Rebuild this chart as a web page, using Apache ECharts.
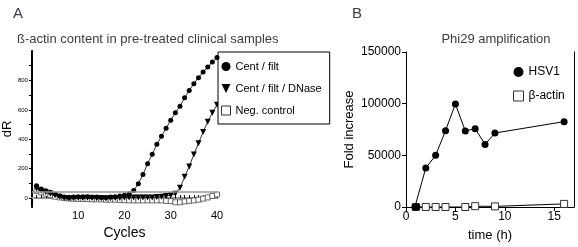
<!DOCTYPE html>
<html>
<head>
<meta charset="utf-8">
<script src="https://cdn.jsdelivr.net/npm/echarts@6/dist/echarts.min.js"></script>
<style>
  html, body { margin: 0; padding: 0; background: #fff; }
  #chart { width: 578px; height: 247px; }
</style>
</head>
<body>
<div id="chart"></div>
<script>
// Panel A: qPCR curves (dR per cycle)
const cycles = Array.from({ length: 40 }, (_, i) => i + 1)
const centFilt = [
  85, 62, 50, 40, 28, 15, 8, 5, 8, 10,
  10, 10, 8, 8, 5, 5, 8, 10, 15, 20,
  30, 52, 98, 161, 234, 298, 366, 420, 475, 530,
  580, 625, 682, 732, 778, 819, 857, 891, 925, 955
]
const centFiltDNase = [
  65, 50, 40, 30, 20, 10, 2, -2, 0, 2,
  2, 3, 2, 0, 0, -2, 0, 2, 2, 3,
  4, 5, 5, 5, 5, 5, 8, 10, 15, 20,
  30, 70, 145, 216, 297, 374, 450, 520, 580, 635
]
const negControl = [
  50, 40, 30, 20, 10, 5, 0, -2, -4, -5,
  -6, -6, -8, -8, -8, -10, -10, -10, -12, -14,
  -15, -15, -15, -15, -15, -15, -15, -15, -18, -20,
  -28, -28, -22, -18, -15, -10, -3, 5, 15, 25
]
const threshold = 45

// Panel B: Phi29 amplification (fold increase vs time)
const hsvTime = [0.9, 1.1, 2, 3, 4, 5, 6, 7, 8, 9, 16]
const hsvFold = [0, 0, 37700, 50000, 73900, 99700, 73500, 75800, 60600, 71600, 82600]
const actinTime = [1, 2, 3, 4, 6, 7, 9, 16]
const actinFold = [0, 0, 0, 0, 0, 800, 600, 3000]

const font = 'Liberation Sans, Arial, sans-serif'
const tickValuesA = cycles
const tickValuesY = [0, 100, 200, 300, 400, 500, 600, 700, 800, 900]

const chart = echarts.init(document.getElementById('chart'))

const option = {
  animation: false,
  textStyle: { fontFamily: font, color: '#000' },
  title: [
    { text: 'A', left: 8, top: 1, textStyle: { fontSize: 15, fontWeight: 'normal', fontFamily: font } },
    { text: 'B', left: 347, top: 1, textStyle: { fontSize: 15, fontWeight: 'normal', fontFamily: font } },
    { text: 'ß-actin content in pre-treated clinical samples', left: 12, top: 28,
      textStyle: { fontSize: 13, fontWeight: 'normal', fontFamily: font } },
    { text: 'Phi29 amplification', left: 491, textAlign: 'center', top: 28,
      textStyle: { fontSize: 13, fontWeight: 'normal', fontFamily: font } }
  ],
  legend: [
    {
      orient: 'vertical',
      left: 218,
      top: 52,
      padding: [9, 8, 8, 3],
      itemGap: 11,
      itemWidth: 9,
      itemHeight: 9,
      borderColor: '#000',
      borderWidth: 1,
      backgroundColor: '#fff',
      textStyle: { fontSize: 11, fontFamily: font, color: '#000' },
      data: [
        { name: 'Cent / filt', icon: 'circle' },
        { name: 'Cent / filt / DNase', icon: 'path://M0,0 L10,0 L5,10 Z' },
        { name: 'Neg. control', icon: 'rect', itemStyle: { color: '#fff', borderColor: '#333', borderWidth: 1 } }
      ]
    },
    {
      orient: 'vertical',
      left: 508,
      top: 61,
      itemGap: 12,
      itemWidth: 10,
      itemHeight: 10,
      textStyle: { fontSize: 12, fontFamily: font, color: '#000' },
      data: [
        { name: 'HSV1', icon: 'circle' },
        { name: 'β-actin', icon: 'rect', itemStyle: { color: '#fff', borderColor: '#333', borderWidth: 1 } }
      ]
    }
  ],
  grid: [
    { left: 29, top: 51, width: 188, height: 156 },
    { left: 406, top: 52, width: 168, height: 156 }
  ],
  xAxis: [
    {
      gridIndex: 0, type: 'value', min: 0, max: 40,
      name: 'Cycles', nameLocation: 'middle', nameGap: 15,
      nameTextStyle: { fontSize: 14, fontFamily: font },
      axisLine: { lineStyle: { color: '#000', width: 1.5 } },
      axisTick: { inside: true, length: 3, customValues: tickValuesA, lineStyle: { color: '#000' } },
      axisLabel: { customValues: [10, 20, 30, 40], fontSize: 11, margin: 3, color: '#000' },
      splitLine: { show: false }
    },
    {
      gridIndex: 0, type: 'value', min: 0, max: 40, position: 'top',
      axisLine: { show: true, lineStyle: { color: '#999', width: 2 } },
      axisTick: { show: false }, axisLabel: { show: false }, splitLine: { show: false }
    },
    {
      gridIndex: 1, type: 'value', min: 0, max: 17, interval: 5,
      name: 'time (h)', nameLocation: 'middle', nameGap: 22,
      nameTextStyle: { fontSize: 13, fontFamily: font },
      axisLine: { lineStyle: { color: '#000' } },
      axisTick: { length: 4, lineStyle: { color: '#000' } },
      axisLabel: { fontSize: 12, margin: 4, color: '#000', showMaxLabel: false },
      splitLine: { show: false }
    }
  ],
  yAxis: [
    {
      gridIndex: 0, type: 'value', min: -60, max: 1000,
      name: 'dR', nameLocation: 'middle', nameGap: 13,
      nameTextStyle: { fontSize: 13, fontFamily: font },
      axisLine: { show: true, lineStyle: { color: '#000' } },
      axisTick: { length: 3, customValues: tickValuesY, lineStyle: { color: '#000' } },
      axisLabel: { customValues: [0, 200, 400, 600, 800], fontSize: 6, margin: 4, color: '#000' },
      splitLine: { show: false }
    },
    {
      gridIndex: 0, type: 'value', min: -60, max: 1000, position: 'right',
      axisLine: { show: true, lineStyle: { color: '#000', width: 2 } },
      axisTick: { show: false }, axisLabel: { show: false }, splitLine: { show: false }
    },
    {
      gridIndex: 1, type: 'value', min: 0, max: 150000, interval: 50000,
      name: 'Fold increase', nameLocation: 'middle', nameGap: 50,
      nameTextStyle: { fontSize: 13, fontFamily: font },
      axisLine: { show: true, lineStyle: { color: '#000' } },
      axisTick: { length: 4, lineStyle: { color: '#000' } },
      axisLabel: { fontSize: 12, margin: 5, color: '#000', formatter: v => String(v) },
      splitLine: { show: false }
    },
    {
      gridIndex: 1, type: 'value', min: 0, max: 150000, position: 'right',
      axisLine: { show: true, lineStyle: { color: '#000' } },
      axisTick: { show: false }, axisLabel: { show: false }, splitLine: { show: false }
    }
  ],
  series: [
    {
      name: 'Neg. control', type: 'line', xAxisIndex: 0, yAxisIndex: 0, z: 2,
      data: cycles.map((c, i) => [c, negControl[i]]),
      symbol: 'rect', symbolSize: 5,
      itemStyle: { color: '#fff', borderColor: '#444', borderWidth: 0.8 },
      lineStyle: { color: '#666', width: 0.8 },
      markLine: {
        silent: true, symbol: 'none', label: { show: false },
        lineStyle: { color: '#999', width: 1.5, type: 'solid' },
        data: [{ yAxis: threshold }]
      }
    },
    {
      name: 'Cent / filt / DNase', type: 'line', xAxisIndex: 0, yAxisIndex: 0, z: 3,
      data: cycles.map((c, i) => [c, centFiltDNase[i]]),
      symbol: 'path://M0,0 L10,0 L5,10 Z', symbolSize: 6,
      itemStyle: { color: '#000' },
      lineStyle: { color: '#000', width: 0.8 }
    },
    {
      name: 'Cent / filt', type: 'line', xAxisIndex: 0, yAxisIndex: 0, z: 4,
      data: cycles.map((c, i) => [c, centFilt[i]]),
      symbol: 'circle', symbolSize: 5,
      itemStyle: { color: '#000' },
      lineStyle: { color: '#000', width: 0.8 }
    },
    {
      name: 'β-actin', type: 'line', xAxisIndex: 2, yAxisIndex: 2, z: 2,
      data: actinTime.map((t, i) => [t, actinFold[i]]),
      symbol: 'rect', symbolSize: 7,
      itemStyle: { color: '#fff', borderColor: '#333', borderWidth: 1 },
      lineStyle: { color: '#000', width: 1 }
    },
    {
      name: 'HSV1', type: 'line', xAxisIndex: 2, yAxisIndex: 2, z: 3,
      data: hsvTime.map((t, i) => [t, hsvFold[i]]),
      symbol: 'circle', symbolSize: 7,
      itemStyle: { color: '#000' },
      lineStyle: { color: '#000', width: 1 }
    }
  ]
}

chart.setOption(option)
</script>
</body>
</html>
